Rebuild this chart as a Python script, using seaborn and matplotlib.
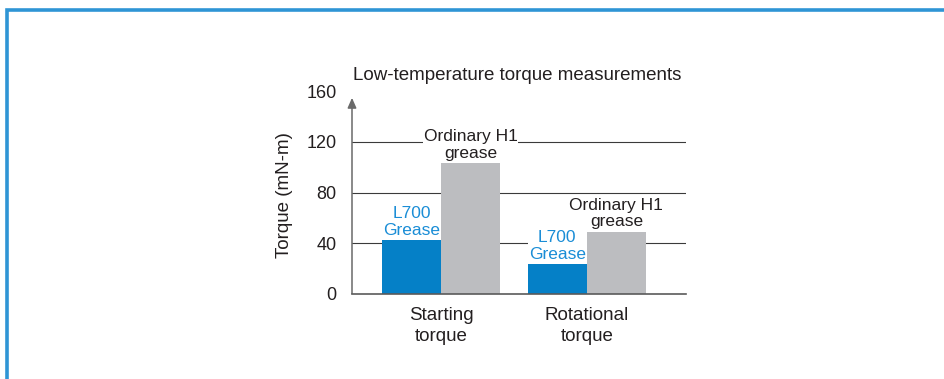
import matplotlib
matplotlib.use("Agg")
import matplotlib.pyplot as plt
import matplotlib.patches as mpatches
import seaborn as sns
import pandas as pd

# Data
categories = ["Starting\ntorque", "Rotational\ntorque"]
greases = ["L700\nGrease", "Ordinary H1\ngrease"]
l700_torque = [42, 23]
h1_torque = [103, 49]
y_ticks = [0, 40, 80, 120, 160]

BLUE = "#0580c7"
GRAY = "#bcbdc0"
BLUE_TEXT = "#1a8dd6"
TEXT = "#231f20"

sns.set_theme(style="white")
plt.rcParams["font.family"] = ["Liberation Sans", "DejaVu Sans"]

df = pd.DataFrame({
    "category": categories * 2,
    "grease": [greases[0]] * 2 + [greases[1]] * 2,
    "torque": l700_torque + h1_torque,
})

fig = plt.figure(figsize=(9.45, 3.79), dpi=100)
W, H = 945, 379

# Blue frame around the panel
frame = mpatches.Rectangle((7.5 / W, -0.2), 1.2, (H - 9.5) / H + 0.2,
                           transform=fig.transFigure, fill=False,
                           edgecolor="#2f95d5", linewidth=2.6)
fig.patches.append(frame)

ax = fig.add_axes([352 / W, 85.5 / H, 334 / W, 202 / H])

sns.barplot(data=df, x="category", y="torque", hue="grease",
            palette={greases[0]: BLUE, greases[1]: GRAY},
            width=0.81, saturation=1, legend=False, ax=ax, zorder=2,
            edgecolor="none", linewidth=0)

ax.set_ylim(0, 160)
ax.set_xlim(-0.61, 1.68)
ax.set_yticks(y_ticks)
ax.set_xlabel("")
ax.set_ylabel("")

for v in y_ticks[1:-1]:
    ax.axhline(v, color="#3a3a3a", linewidth=0.8, zorder=0)

for side in ["left", "right", "top"]:
    ax.spines[side].set_visible(False)
ax.spines["bottom"].set_color("#5a5a5a")
ax.spines["bottom"].set_linewidth(1.2)
ax.spines["bottom"].set_zorder(3)

# Vertical axis drawn as an arrow
ax.annotate("", xy=(0, 155), xytext=(0, 0),
            xycoords=("axes fraction", "data"),
            textcoords=("axes fraction", "data"),
            arrowprops=dict(arrowstyle="-|>,head_length=0.5,head_width=0.22",
                            color="#6a6a6a", linewidth=1.1,
                            shrinkA=0, shrinkB=0),
            annotation_clip=False)

ax.tick_params(axis="y", length=0, labelsize=13, colors=TEXT, pad=11)
ax.tick_params(axis="x", length=0, labelsize=13.5, colors=TEXT, pad=9.5)
for lbl in ax.get_xticklabels():
    lbl.set_linespacing(1.32)

# Value labels above each bar, with a white backing that breaks the gridlines
label_colors = [BLUE_TEXT, TEXT]
for container, name, col in zip(ax.containers, greases, label_colors):
    for bar in container:
        ax.annotate(name,
                    xy=(bar.get_x() + bar.get_width() / 2, bar.get_height()),
                    xytext=(0, 2), textcoords="offset points",
                    ha="center", va="bottom", fontsize=12.5, color=col,
                    linespacing=1.1, zorder=4,
                    bbox=dict(boxstyle="square,pad=0.05", facecolor="white",
                              edgecolor="none"))

fig.text(353 / W, (H - 75) / H, "Low-temperature torque measurements",
         ha="left", va="center", fontsize=13.5, color=TEXT)
fig.text(285 / W, (H - 195) / H, "Torque (mN-m)", rotation=90,
         ha="center", va="center", fontsize=13.5, color=TEXT)

fig.savefig("out.png", dpi=100, facecolor="white")
